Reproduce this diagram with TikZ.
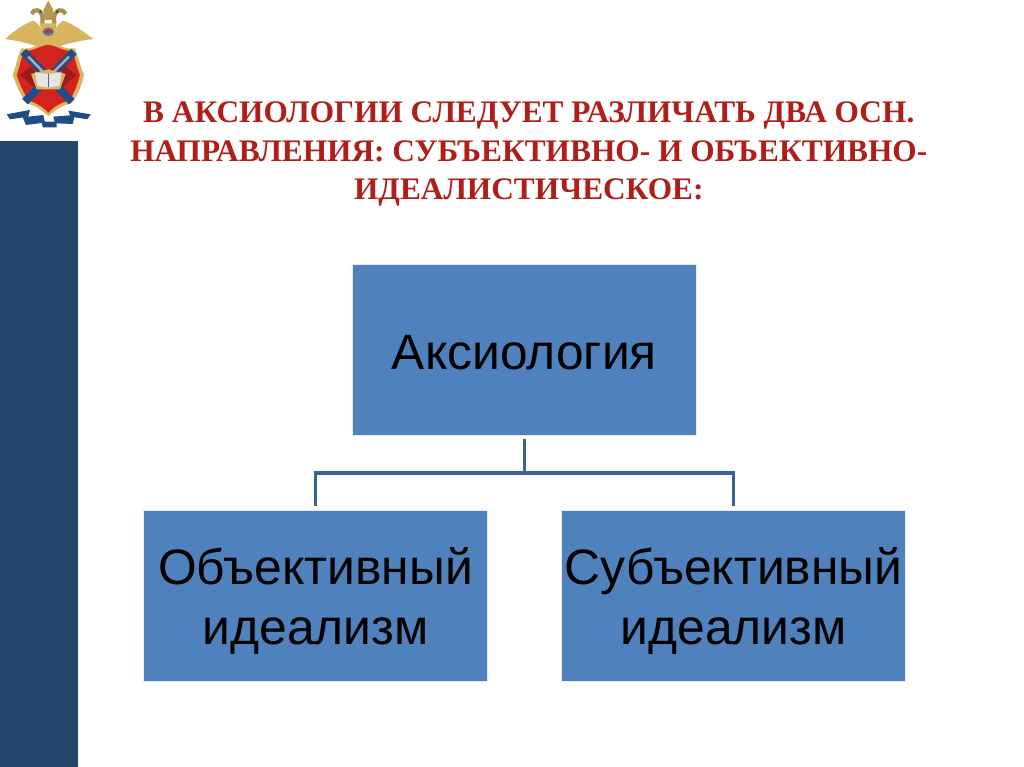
\documentclass[tikz,border=0pt]{standalone}
\usepackage{fontspec}
\setmainfont{Liberation Serif}
\setsansfont{Liberation Sans}
\usepackage{xcolor}
\usetikzlibrary{arrows.meta,positioning}
\definecolor{barblue}{HTML}{27466C}
\definecolor{boxblue}{HTML}{4F81BD}
\definecolor{linkblue}{HTML}{3A6496}
\definecolor{titlered}{HTML}{B01E1A}
\definecolor{crestred}{HTML}{D4231F}
\definecolor{crestdark}{HTML}{9C1C1C}
\definecolor{crestgold}{HTML}{D9B45F}
\definecolor{crestblue}{HTML}{1F4E86}

\begin{document}
\begin{tikzpicture}[
  box/.style={draw=white!85!boxblue, line width=0.6pt, fill=boxblue, align=center, inner sep=0pt,
              minimum width=8.6cm, minimum height=4.28cm, font=\sffamily\fontsize{35.4}{42.5}\selectfont},
  link/.style={draw=linkblue, line width=2.5pt},
  ribbon/.style={fill=crestblue}]
  \useasboundingbox (0,0) rectangle (25.6,-19.175);
  \fill[white] (0,0) rectangle (25.6,-19.175);
  % Side bar
  \fill[barblue] (0,-3.52) rectangle (1.95,-19.175);
  % Heading
  \node[font=\bfseries\fontsize{22.3}{27.7}\selectfont, text=titlered, align=center] (title) at (13.22,-3.85)
    {В АКСИОЛОГИИ СЛЕДУЕТ РАЗЛИЧАТЬ ДВА ОСН.\\
     НАПРАВЛЕНИЯ: СУБЪЕКТИВНО- И ОБЪЕКТИВНО-\\
     ИДЕАЛИСТИЧЕСКОЕ:};
  % Boxes
  \node[box] (axio) at (13.11, -8.75) {\rule{0pt}{28.5pt}Аксиология};
  \node[box] (obj)  at (7.89, -14.9) {\rule{0pt}{33pt}Объективный\\идеализм};
  \node[box] (subj) at (18.34,-14.9) {\rule{0pt}{33pt}Субъективный\\идеализм};
  % Connectors
  \coordinate (fork) at (13.11,-11.83);
  \draw[link, shorten <=2pt] (axio.south) -- (fork);
  \draw[link, shorten >=3pt] (fork) -| (obj.north);
  \draw[link, shorten >=3pt] (fork) -| (subj.north);
  % Crest
  \begin{scope}[x=0.00833cm, y=-0.00833cm]
    % wings
    \fill[crestgold] (145,130) .. controls (130,105) and (125,75) .. (100,62)
      .. controls (70,72) and (40,95) .. (15,117)
      .. controls (50,122) and (90,130) .. (118,142) -- (172,142)
      .. controls (200,130) and (240,122) .. (280,117)
      .. controls (250,95) and (220,72) .. (190,62)
      .. controls (165,75) and (160,105) .. (145,130) -- cycle;
    % crown and necks
    \fill[crestgold!85!black] (130,30) .. controls (135,15) and (140,15) .. (145,2)
      .. controls (150,15) and (155,15) .. (160,30) -- (156,60) -- (134,60) -- cycle;
    \draw[crestgold!80!black, line width=3pt] (95,42) .. controls (100,25) and (125,25) .. (128,55)
      .. controls (128,65) and (125,70) .. (130,85);
    \draw[crestgold!80!black, line width=3pt] (197,42) .. controls (190,25) and (165,25) .. (162,55)
      .. controls (162,65) and (165,70) .. (160,85);
    \fill[black!70] (122,35) circle (5) (172,35) circle (5);
    % breast
    \fill[crestgold] (122,70) -- (168,70) -- (160,130) -- (130,130) -- cycle;
    \fill[crestblue!75!white] (145,95) ellipse (17 and 13);
    \fill[crestred] (132,98) arc (180:360:13 and 9) -- cycle;
    % shield
    \fill[crestgold] (65,145) .. controls (50,175) and (50,195) .. (38,225)
      .. controls (50,260) and (65,290) .. (80,310)
      .. controls (105,315) and (125,330) .. (145,348)
      .. controls (165,330) and (190,315) .. (215,310)
      .. controls (230,290) and (245,260) .. (252,225)
      .. controls (240,195) and (235,175) .. (225,145)
      .. controls (195,150) and (170,130) .. (145,128)
      .. controls (120,130) and (95,150) .. (65,145) -- cycle;
    \fill[crestred] (72,152) .. controls (62,180) and (60,200) .. (50,225)
      .. controls (60,255) and (72,280) .. (86,302)
      .. controls (110,308) and (130,322) .. (145,338)
      .. controls (160,322) and (180,308) .. (208,302)
      .. controls (222,280) and (232,255) .. (240,225)
      .. controls (230,200) and (226,180) .. (218,152)
      .. controls (190,155) and (168,136) .. (145,135)
      .. controls (122,136) and (100,155) .. (72,152) -- cycle;
    \fill[crestdark] (60,225) -- (105,190) -- (105,265) -- cycle;
    \fill[crestdark] (230,225) -- (185,190) -- (185,265) -- cycle;
    % swords
    \draw[crestblue, line width=5.5pt] (70,155) -- (215,305);
    \draw[crestblue, line width=5.5pt] (222,155) -- (75,305);
    \draw[gray!65, line width=1.8pt] (85,170) -- (145,232);
    \draw[gray!65, line width=1.8pt] (207,170) -- (145,232);
    % book
    \fill[crestgold] (93,222) -- (145,208) -- (197,222) -- (180,268) -- (110,268) -- cycle;
    \fill[white!80!gray] (105,217) -- (145,222) -- (185,217) -- (178,258) -- (145,262) -- (112,258) -- cycle;
    \draw[crestblue!50!gray, line width=0.7pt] (145,222) -- (145,262);
    % ribbon
    \fill[ribbon] (20,343) -- (90,330) -- (85,350) -- (30,358) -- cycle;
    \fill[ribbon] (68,352) -- (130,345) -- (135,368) -- (78,375) -- cycle;
    \fill[ribbon] (125,365) -- (170,365) -- (170,382) -- (128,382) -- cycle;
    \fill[ribbon] (160,350) -- (225,345) -- (218,372) -- (165,370) -- cycle;
    \fill[ribbon] (205,332) -- (272,343) -- (262,358) -- (212,350) -- cycle;
  \end{scope}
\end{tikzpicture}
\end{document}
